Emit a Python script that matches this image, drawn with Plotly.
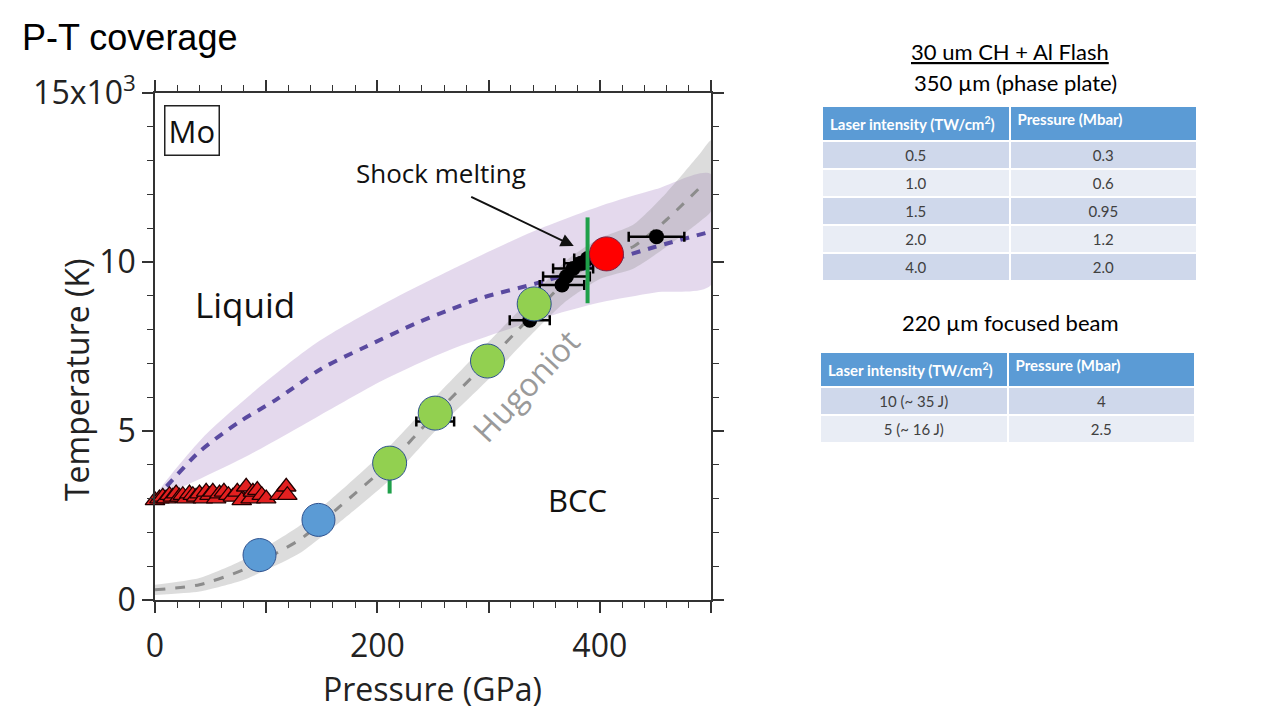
import plotly.graph_objects as go

# ---------------- data (pressure in GPa, temperature in 10^3 K) ----------------
melt_p = [0, 10, 40, 75, 110, 150, 190, 235, 262, 295, 349, 400, 450, 500]
melt_t = [3.0, 3.35, 4.39, 5.25, 5.95, 6.85, 7.5, 8.19, 8.55, 8.95, 9.42, 9.95, 10.45, 10.9]

melt_band_up_p = [0, 40, 85, 145, 205, 265, 340, 400, 450, 500]
melt_band_up_t = [3.0, 4.7, 6.05, 7.6, 8.75, 9.75, 10.9, 11.65, 12.15, 12.6]
melt_band_lo_p = [0, 25, 85, 145, 205, 265, 355, 400, 450, 500]
melt_band_lo_t = [3.0, 3.35, 4.3, 5.4, 6.5, 7.4, 8.4, 8.8, 9.1, 9.32]

hug_p = [0, 40, 80, 130, 166, 211, 252, 299, 337, 370, 400, 430, 460, 490, 500]
hug_t = [0.3, 0.45, 0.9, 1.78, 2.76, 4.05, 5.5, 7.05, 8.35, 9.45, 10.1, 10.45, 11.25, 12.2, 12.55]
hug_up_t = [0.45, 0.65, 1.2, 2.2, 3.2, 4.55, 6.0, 7.6, 8.9, 10.05, 10.7, 11.1, 12.05, 13.2, 13.6]
hug_lo_t = [0.15, 0.25, 0.6, 1.38, 2.3, 3.55, 5.0, 6.5, 7.8, 8.85, 9.5, 9.8, 10.45, 11.2, 11.5]

tri_p = [0, 4, 7, 10, 13, 16, 19, 22, 25, 28, 31, 34, 37, 40, 43, 46, 49, 52, 55,
         58, 62, 66, 70, 74, 78, 82, 86, 88, 92, 96, 100, 112, 118, 119]
tri_t = [2.95, 3.0, 3.05, 3.0, 3.1, 3.05, 3.15, 3.05, 3.1, 3.0, 3.15, 3.1, 3.05, 3.15, 3.0,
         3.2, 3.1, 3.2, 3.0, 3.15, 3.2, 3.1, 3.05, 3.2, 2.95, 3.35, 3.0, 3.2, 3.25, 3.1,
         3.0, 3.1, 3.35, 3.1]

blk_p = [252, 337, 366, 370, 376, 383, 389, 451]
blk_t = [5.28, 8.28, 9.32, 9.57, 9.81, 9.96, 10.1, 10.75]
blk_err = [17, 18, 20, 21, 18, 15, 12, 25]

blue_p = [94, 147]
blue_t = [1.33, 2.37]
green_p = [211, 252, 299, 341]
green_t = [4.05, 5.53, 7.07, 8.76]
red_p = [406]
red_t = [10.24]

green_bar_p = [389, 211]
green_bar_lo = [8.78, 3.15]
green_bar_hi = [11.32, 4.05]

x_tickvals = [0, 100, 200, 300, 400, 500]
x_ticktext = ["0", "", "200", "", "400", ""]
y_tickvals = [0, 5, 10, 15]
y_ticktext = ["0", "5", "10", "15x10<sup>3</sup>"]

tbl1_int = ["0.5", "1.0", "1.5", "2.0", "4.0"]
tbl1_prs = ["0.3", "0.6", "0.95", "1.2", "2.0"]
tbl2_int = ["10 (~ 35 J)", "5 (~ 16 J)"]
tbl2_prs = ["4", "2.5"]
tbl_header = ["Laser intensity (TW/cm<sup>2</sup>)", "Pressure (Mbar)"]

# ---------------- figure ----------------
FONT = "Open Sans"
W, H = 1280, 720
fig = go.Figure()

fig.add_trace(go.Scatter(
    x=melt_band_up_p + melt_band_lo_p[::-1],
    y=melt_band_up_t + melt_band_lo_t[::-1],
    fill="toself", fillcolor="rgba(150,110,185,0.26)",
    line=dict(width=0, shape="spline", smoothing=0.8), mode="lines",
    hoverinfo="skip", showlegend=False))

fig.add_trace(go.Scatter(
    x=hug_p + hug_p[::-1],
    y=hug_up_t + hug_lo_t[::-1],
    fill="toself", fillcolor="rgba(150,150,150,0.33)",
    line=dict(width=0, shape="spline", smoothing=0.6), mode="lines",
    hoverinfo="skip", showlegend=False))

fig.add_trace(go.Scatter(
    x=melt_p, y=melt_t, mode="lines",
    line=dict(color="#5A4AA0", width=4, dash="9px,8px", shape="spline", smoothing=0.8),
    hoverinfo="skip", showlegend=False))

fig.add_trace(go.Scatter(
    x=hug_p[:-1], y=hug_t[:-1], mode="lines",
    line=dict(color="#8C8C8C", width=3, dash="10px,10px", shape="spline", smoothing=0.6),
    hoverinfo="skip", showlegend=False))

fig.add_trace(go.Scatter(
    x=tri_p, y=tri_t, mode="markers", cliponaxis=False,
    marker=dict(symbol="triangle-up", size=17, color="#E32020",
                line=dict(color="#200000", width=1.3)),
    showlegend=False))

fig.add_trace(go.Scatter(
    x=blk_p, y=blk_t, mode="markers",
    marker=dict(size=15, color="black"),
    error_x=dict(type="data", array=blk_err, color="black", thickness=2.5, width=5),
    showlegend=False))

for p, lo, hi in zip(green_bar_p, green_bar_lo, green_bar_hi):
    fig.add_trace(go.Scatter(
        x=[p, p], y=[lo, hi], mode="lines",
        line=dict(color="#1FA04A", width=4), hoverinfo="skip", showlegend=False))

fig.add_trace(go.Scatter(
    x=blue_p, y=blue_t, mode="markers",
    marker=dict(size=33, color="#5B9BD5", line=dict(color="#2F528F", width=1)),
    showlegend=False))
fig.add_trace(go.Scatter(
    x=green_p, y=green_t, mode="markers",
    marker=dict(size=34, color="#92D050", line=dict(color="#2F528F", width=1)),
    showlegend=False))
fig.add_trace(go.Scatter(
    x=red_p, y=red_t, mode="markers",
    marker=dict(size=34, color="#FF0000", line=dict(color="#7F1F3F", width=1)),
    showlegend=False))

# tables
row_fill = ["#CFD8EB", "#E9EDF5", "#CFD8EB", "#E9EDF5", "#CFD8EB"]
hdr_font = dict(family="Lato", size=15, color="white", weight="bold")
cell_font = dict(family="Lato", size=15, color="#404040")
fig.add_trace(go.Table(
    domain=dict(x=[822 / W, 1197 / W], y=[1 - 300 / H, 1 - 106 / H]),
    columnwidth=[1, 1],
    header=dict(values=tbl_header, fill_color="#5B9BD5", align="left",
                line=dict(color="white", width=2), height=34, font=hdr_font),
    cells=dict(values=[tbl1_int, tbl1_prs], fill_color=[row_fill, row_fill],
               align="center", line=dict(color="white", width=2), height=28,
               font=cell_font)))

fig.add_trace(go.Table(
    domain=dict(x=[820 / W, 1196 / W], y=[1 - 470 / H, 1 - 352 / H]),
    columnwidth=[1, 1],
    header=dict(values=tbl_header, fill_color="#5B9BD5", align="left",
                line=dict(color="white", width=2), height=34, font=hdr_font),
    cells=dict(values=[tbl2_int, tbl2_prs], fill_color=[row_fill[:2], row_fill[:2]],
               align="center", line=dict(color="white", width=2), height=28,
               font=cell_font)))

axis_common = dict(
    showline=True, linecolor="#333333", linewidth=1.5, mirror="ticks",
    ticks="outside", ticklen=11, tickwidth=1.5, tickcolor="#333333",
    showgrid=False, zeroline=False, automargin=False,
    tickfont=dict(family=FONT, size=32, color="#222222"),
)

fig.update_layout(
    width=W, height=H,
    margin=dict(l=0, r=0, t=0, b=0, pad=0, autoexpand=False),
    paper_bgcolor="white", plot_bgcolor="white",
    xaxis=dict(domain=[155 / W, 711 / W], range=[0, 500],
               tickvals=x_tickvals, ticktext=x_ticktext, ticklabelstandoff=6,
               minor=dict(dtick=20, ticklen=6, tickwidth=1.2, ticks="outside",
                          tickcolor="#333333"),
               **axis_common),
    yaxis=dict(domain=[1 - 600 / H, 1 - 93 / H], range=[0, 15],
               tickvals=y_tickvals, ticktext=y_ticktext,
               minor=dict(dtick=1, ticklen=6, tickwidth=1.2, ticks="outside",
                          tickcolor="#333333"),
               **axis_common),
    showlegend=False,
)


def paper_text(text, x, y, size, family, color="black", angle=0, xanchor="center"):
    return dict(text=text, xref="paper", yref="paper", x=x / W, y=1 - y / H,
                xanchor=xanchor, yanchor="middle", showarrow=False, textangle=angle,
                font=dict(family=family, size=size, color=color))


ann = []
ann.append(paper_text("P-T coverage", 20, 37, 36, "Liberation Sans", xanchor="left"))
ann.append(paper_text("Pressure (GPa)", 432, 688, 32, FONT, "#222222"))
ann.append(paper_text("Temperature (K)", 76, 380, 32, FONT, "#222222", angle=-90))
ann.append(paper_text("<u>30 um CH + Al Flash</u>", 1010, 52, 22, "Lato"))
ann.append(paper_text("350 µm (phase plate)", 1015, 82, 22, "Lato"))
ann.append(paper_text("220 µm focused beam", 1010, 322, 22, "Lato"))

# in-plot labels (data coordinates)
ann.append(dict(text="Mo", x=33, y=13.88, showarrow=False, bordercolor="#222222",
                borderwidth=1.5, borderpad=3,
                font=dict(family=FONT, size=31, color="#111111")))
ann.append(dict(text="Shock melting", x=257, y=12.62, showarrow=False,
                font=dict(family=FONT, size=26, color="#111111")))
ann.append(dict(text="", x=376.6, y=10.47, ax=283, ay=11.95, axref="x", ayref="y",
                showarrow=True, arrowhead=2, arrowsize=1.3, arrowwidth=2,
                arrowcolor="#111111"))
ann.append(dict(text="Liquid", x=81, y=8.73, showarrow=False,
                font=dict(family=FONT, size=35, color="#111111")))
ann.append(dict(text="BCC", x=380, y=2.96, showarrow=False,
                font=dict(family=FONT, size=31, color="#111111")))
ann.append(dict(text="Hugoniot", x=333, y=6.36, showarrow=False, textangle=-47,
                font=dict(family=FONT, size=32, color="#9A9A9A")))
fig.update_layout(annotations=ann)

fig.write_html("out.html", config={"displayModeBar": False},
               post_script="document.body.style.margin='0';")
